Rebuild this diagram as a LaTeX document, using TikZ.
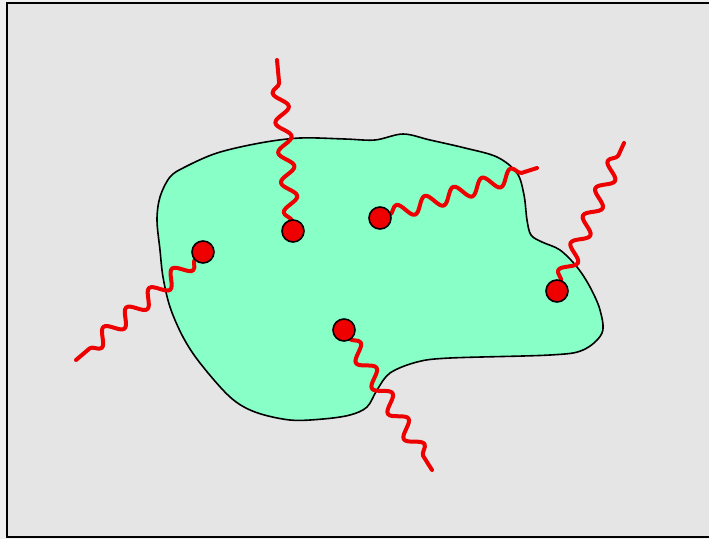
\documentclass[tikz,border=0pt]{standalone}
\usetikzlibrary{decorations.pathmorphing,backgrounds}
\definecolor{bggray}{RGB}{229,229,229}
\definecolor{pagegray}{RGB}{240,240,240}
\definecolor{blobgreen}{RGB}{136,255,199}
\definecolor{dotred}{RGB}{238,0,0}
\begin{document}
\begin{tikzpicture}[x=1pt,y=-1pt,
  dotnode/.style={circle,fill=dotred,draw=black,line width=1.6pt,minimum size=22pt,inner sep=0pt},
  wave/.style={draw=dotred,line width=4pt,line cap=round,line join=round,decorate,
    decoration={snake,amplitude=7.5pt,segment length=30pt,pre length=10pt,post length=12pt}}]
% dots
\node[dotnode] (d1) at (293,231) {};
\node[dotnode] (d2) at (380,218) {};
\node[dotnode] (d3) at (203,252) {};
\node[dotnode] (d4) at (557,291) {};
\node[dotnode] (d5) at (344,330) {};
\coordinate (e1) at (277,60);
\coordinate (e2) at (537,168);
\coordinate (e3) at (76,360);
\coordinate (e4) at (624,143);
\coordinate (e5) at (432,470);
\begin{pgfonlayer}{background}
\fill[pagegray] (0,0) rectangle (709,539);
\begin{scope}
\clip (0,0) rectangle (709,539);
\draw[fill=bggray,line width=2pt] (7,3) rectangle (725,537);
\end{scope}
% blob
\draw[fill=blobgreen,line width=1.6pt,line join=round] plot[smooth cycle,tension=0.55] coordinates {
(160,197) (170,177) (185,167) (217,153) (260,143) (300,138) (345,139) (375,140) (403,134)
(430,140) (465,148) (497,157) (517,173) (524,195) (527,220) (531,235) (542,242) (560,250)
(577,267) (590,287) (600,310) (602,333) (583,350) (550,355) (450,358) (417,362) (390,373)
(377,390) (367,407) (350,415) (323,419) (290,420) (255,412) (230,397) (200,363) (183,337)
(170,307) (163,277) (160,250) (157,220)};
\path[wave] (d1.center) -- (e1);
\path[wave] (d2.center) -- (e2);
\path[wave] (d3.center) -- (e3);
\path[wave] (d4.center) -- (e4);
\path[wave] (d5.center) -- (e5);
\end{pgfonlayer}
\useasboundingbox (0,0) rectangle (709,539);
\end{tikzpicture}
\end{document}
